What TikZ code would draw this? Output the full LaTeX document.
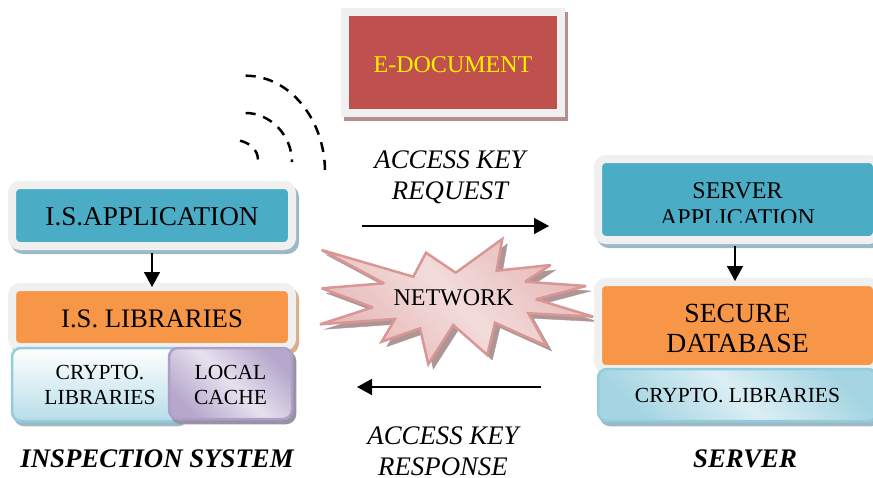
\documentclass[tikz,border=0pt]{standalone}
\usepackage{fontspec}
\setmainfont{Liberation Serif}
\usetikzlibrary{arrows.meta, positioning, shadows, shapes.geometric}
\definecolor{tealbox}{HTML}{4BACC6}
\definecolor{orangebox}{HTML}{F79646}
\definecolor{redbox}{HTML}{C0504D}
\definecolor{paleframe}{HTML}{F0F0F0}
\definecolor{tealcast}{HTML}{9CB9C4}
\definecolor{orangecast}{HTML}{D9AE88}
\definecolor{redcast}{HTML}{B58F90}
\definecolor{violetcast}{HTML}{9A90A8}
\definecolor{starcast}{HTML}{AE9696}
\definecolor{violetedge}{HTML}{AE9FC6}
\definecolor{violetmid}{HTML}{E6E1EE}
\definecolor{violetend}{HTML}{B6A8CC}
\definecolor{skyedge}{HTML}{93CDDD}
\definecolor{skyend}{HTML}{A5D5E2}
\definecolor{skymid}{HTML}{DBEEF4}
\definecolor{skylow}{HTML}{B7DDE8}
\definecolor{staredge}{HTML}{D99694}
\definecolor{starend}{HTML}{E6B9B8}
\definecolor{starmid}{HTML}{F2DCDB}
\newcommand{\sz}[2]{\fontsize{#1}{#2}\selectfont}

\begin{document}
\begin{tikzpicture}[
    x=1pt, y=-1pt,
    framed/.style={rectangle, draw=paleframe, line width=8pt, rounded corners=8pt, minimum width=280pt, text centered, align=center, inner sep=0pt},
    soft/.style={rectangle, line width=2.5pt, rounded corners=9pt, text centered, align=center, inner sep=0pt},
    cast/.style={general shadow={fill=#1, draw=#1, shadow xshift=3pt, shadow yshift=-4pt}},
    label/.style={align=center, inner sep=0pt, font=\sz{26.8}{31}\itshape},
    title/.style={inner sep=0pt, font=\sz{26.8}{30}\bfseries\itshape},
    arrow/.style={-{Triangle[length=15pt,width=16pt]}, line width=1.5pt},
    wave/.style={line width=2.5pt, dash pattern=on 10pt off 8pt}]
    \useasboundingbox (0,0) rectangle (873,477);

    % Document
    \node[framed, fill=redbox, rounded corners=0pt, minimum width=216pt, minimum height=101pt, cast=redcast, text=yellow, text height=20pt, font=\sz{24}{28}] (edoc) at (453,62.5) {E-DOCUMENT};

    % Waves
    \draw[wave] (245.7,75.7) .. controls (290,75.7) and (325,120) .. (325,171.7);
    \draw[wave] (245.7,113) .. controls (270,113) and (292,135) .. (292,162);
    \draw[wave] (240,140.7) .. controls (250,143) and (258,150) .. (258,160);

    % Inspection system
    \node[framed, fill=tealbox, minimum height=61pt, cast=tealcast, text height=21pt, font=\sz{27.2}{30}] (isapp) at (152,215.5) {I.S.APPLICATION};
    \node[framed, fill=orangebox, minimum height=60pt, cast=orangecast, text height=21pt, font=\sz{26.7}{30}] (islib) at (152,317) {I.S. LIBRARIES};
    \node[soft, draw=skyedge, top color=white, bottom color=skylow, minimum width=172pt, minimum height=73pt, cast=tealcast, text height=41pt, font=\sz{21.5}{25}] (iscrypto) at (98,384.5) {\hspace{4pt}CRYPTO.\\\hspace{4pt}LIBRARIES};
    \node[soft, draw=violetedge, shading=axis, left color=violetend, right color=violetend, middle color=violetmid, shading angle=-45, minimum width=123pt, minimum height=71pt, cast=violetcast, text height=43pt, font=\sz{21.5}{25}] (iscache) at (230.5,383.5) {LOCAL\\CACHE};
    \node[title] (istitle) at (157,458.5) {INSPECTION SYSTEM};

    % Network
    \draw[line width=2.5pt, draw=staredge, miter limit=3, left color=starend, right color=starend, middle color=starmid, shading angle=-45, general shadow={fill=starcast, draw=starcast, shadow xshift=5pt, shadow yshift=-5pt}]
        (321.7,250) -- (413.3,276.7) -- (426,252.7) -- (455.7,272.7) -- (502.3,239) -- (496.7,270.7) -- (550.7,265) -- (525,281.7) -- (586,286) -- (536,299.3) -- (593.3,316.7) -- (528.3,313.3) -- (546.7,346) -- (495,322.7) -- (487.3,355) -- (453.3,325) -- (428.3,364) -- (420,328.3) -- (381.7,341.7) -- (395,319) -- (320,324.3) -- (372.7,307.3) -- (321.7,288.3) -- (384,283.3) -- cycle;
    \node[font=\sz{24}{28}] (net) at (453.5,298) {NETWORK};

    % Messages
    \node[label] (reqtext) at (450,177) {ACCESS KEY\\REQUEST};
    \node[label] (restext) at (443,451) {ACCESS KEY\\RESPONSE};
    \coordinate (reqfrom) at (362,226);
    \coordinate (reqto) at (549,226);
    \coordinate (resfrom) at (541,387);
    \coordinate (resto) at (357,387);

    % Server
    \node[framed, fill=tealbox, minimum width=279pt, minimum height=81pt, cast=tealcast] (svapp) at (737.5,199.5) {};
    \begin{scope}
        \clip (598,159) rectangle (877,222.5);
        \node[align=center, font=\sz{24}{27}] (svtext) at (737.5,204) {SERVER\\APPLICATION};
    \end{scope}
    \node[framed, fill=orangebox, minimum width=279pt, minimum height=87pt, cast=orangecast, text height=55pt, font=\sz{27.7}{30}] (svdb) at (737.5,325.5) {SECURE\\DATABASE};
    \node[soft, draw=skyedge, shading=axis, left color=skyend, right color=skyend, middle color=skymid, shading angle=-45, minimum width=279pt, minimum height=52pt, cast=tealcast, text height=16pt, font=\sz{21.5}{25}] (svcrypto) at (737.5,395) {CRYPTO. LIBRARIES};
    \node[title] (svtitle) at (745,458.5) {SERVER};

    % Arrows
    \draw[arrow, shorten <=3pt, shorten >=-4pt] (isapp) -- (islib);
    \draw[arrow, shorten <=2pt, shorten >=-3pt] ([xshift=-2.5pt]svapp.south) -- ([xshift=-2.5pt]svdb.north);
    \draw[arrow] (reqfrom) -- (reqto);
    \draw[arrow] (resfrom) -- (resto);
\end{tikzpicture}
\end{document}
